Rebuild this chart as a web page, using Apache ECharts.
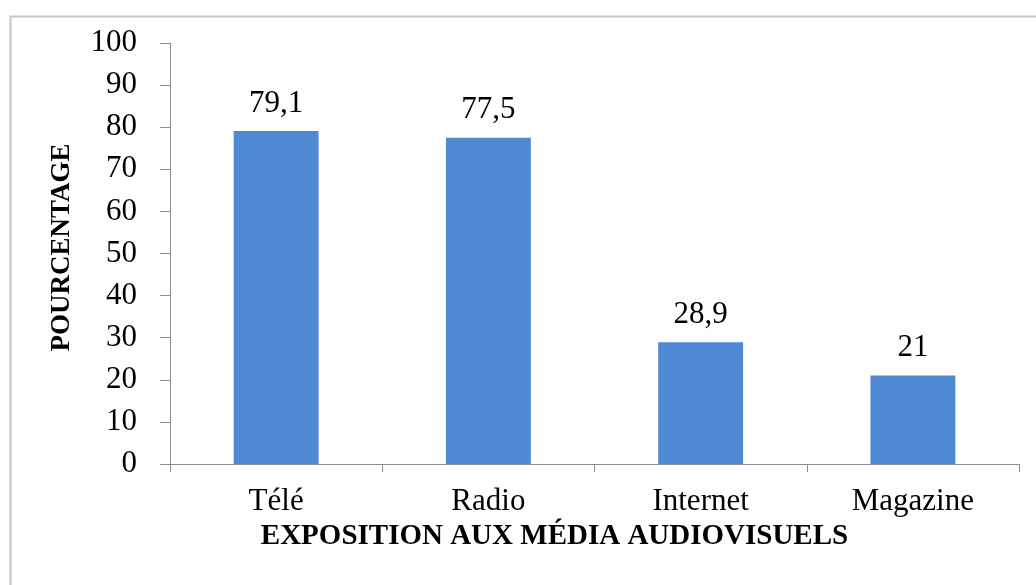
<!DOCTYPE html>
<html>
<head>
<meta charset="utf-8">
<script src="https://cdn.jsdelivr.net/npm/echarts@6/dist/echarts.min.js"></script>
<style>
  html, body { margin: 0; padding: 0; background: #ffffff; }
  #chart { width: 1036px; height: 585px; }
</style>
</head>
<body>
<div id="chart"></div>
<script>
// Exposure to audiovisual media (%)
const categories = ['Télé', 'Radio', 'Internet', 'Magazine'];
const percentages = [79.1, 77.5, 28.9, 21];
const valueLabels = ['79,1', '77,5', '28,9', '21'];

const yTitle = 'POURCENTAGE';
const xTitle = 'EXPOSITION AUX MÉDIA AUDIOVISUELS';

const serif = '"Liberation Serif", "Times New Roman", serif';
const axisGray = '#8c8c8c';

const chart = echarts.init(document.getElementById('chart'), null, { renderer: 'canvas' });

chart.setOption({
  backgroundColor: '#ffffff',
  animation: false,
  graphic: [{
    type: 'rect',
    left: 8,
    top: 14,
    shape: { width: 1100, height: 700 },
    style: { fill: 'none', stroke: '#c4c4c4', lineWidth: 2 },
    silent: true
  }],
  grid: { left: 170, right: 17, top: 43, bottom: 121 },
  xAxis: {
    type: 'category',
    data: categories,
    boundaryGap: true,
    name: xTitle,
    nameLocation: 'middle',
    nameGap: 55,
    nameTextStyle: {
      fontFamily: serif, fontSize: 29, fontWeight: 'bold', color: '#000',
      padding: [0, 80, 0, 0]
    },
    axisLine: { show: true, lineStyle: { color: axisGray, width: 1 } },
    axisTick: { show: true, length: 8, lineStyle: { color: axisGray } },
    axisLabel: { fontFamily: serif, fontSize: 31, color: '#000', margin: 22 },
    splitLine: { show: false }
  },
  yAxis: {
    type: 'value',
    min: 0,
    max: 100,
    interval: 10,
    name: yTitle,
    nameLocation: 'middle',
    nameGap: 94,
    nameTextStyle: {
      fontFamily: serif, fontSize: 27, fontWeight: 'bold', color: '#000',
      padding: [0, 0, 0, 12]
    },
    axisLine: { show: true, lineStyle: { color: axisGray, width: 1 } },
    axisTick: { show: true, length: 10, lineStyle: { color: axisGray } },
    axisLabel: { fontFamily: serif, fontSize: 31, color: '#000', margin: 33 },
    splitLine: { show: false }
  },
  series: [{
    type: 'bar',
    data: percentages,
    barWidth: '40%',
    itemStyle: { color: '#5089d3' },
    label: {
      show: true,
      position: 'top',
      distance: 12,
      fontFamily: serif,
      fontSize: 31,
      color: '#000',
      formatter: (p) => valueLabels[p.dataIndex]
    }
  }]
});
</script>
</body>
</html>
